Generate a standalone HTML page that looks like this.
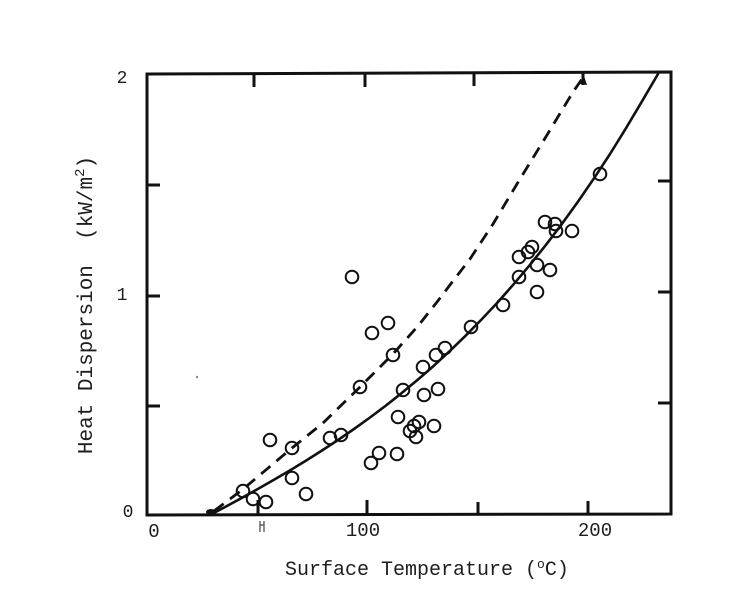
<!DOCTYPE html>
<html>
<head>
<meta charset="utf-8">
<style>
  html,body{margin:0;padding:0;background:#fff;}
  svg{display:block;}
  text{font-family:"Liberation Mono","DejaVu Sans Mono",monospace;fill:#1e1e1e;}
</style>
</head>
<body>
<svg width="750" height="610" viewBox="0 0 750 610" xmlns="http://www.w3.org/2000/svg">
  <rect x="0" y="0" width="750" height="610" fill="#ffffff"/>

  <!-- frame -->
  <path d="M147,74 L671,72 L671,514 L147,515 Z" fill="none" stroke="#111" stroke-width="3"/>

  <!-- ticks -->
  <g stroke="#111" stroke-width="3">
    <line x1="147" y1="185" x2="160" y2="185"/>
    <line x1="147" y1="296" x2="160" y2="296"/>
    <line x1="147" y1="406" x2="160" y2="406"/>
    <line x1="671" y1="181" x2="658" y2="181"/>
    <line x1="671" y1="292" x2="658" y2="292"/>
    <line x1="671" y1="403" x2="658" y2="403"/>
    <line x1="254" y1="74" x2="254" y2="87"/>
    <line x1="365" y1="73" x2="365" y2="87"/>
    <line x1="474" y1="73" x2="474" y2="86"/>
    <line x1="583" y1="72" x2="583" y2="85"/>
    <line x1="258" y1="514" x2="258" y2="500"/>
    <line x1="367" y1="514" x2="367" y2="500"/>
    <line x1="478" y1="514" x2="478" y2="502"/>
    <line x1="588" y1="514" x2="588" y2="501"/>
  </g>
  <!-- small mark under 50 tick -->
  <g stroke="#444" stroke-width="1.2">
    <line x1="260" y1="521" x2="260" y2="532"/>
    <line x1="264" y1="521" x2="264" y2="532"/>
    <line x1="260" y1="525" x2="264" y2="525"/>
  </g>

  <!-- tick labels -->
  <text x="122" y="83" font-size="18" text-anchor="middle">2</text>
  <text x="122" y="300" font-size="18" text-anchor="middle">1</text>
  <text x="128" y="517" font-size="18" text-anchor="middle">0</text>
  <text x="154" y="537" font-size="19" text-anchor="middle">0</text>
  <text x="363" y="536" font-size="19" text-anchor="middle">100</text>
  <text x="595" y="536" font-size="19" text-anchor="middle">200</text>

  <!-- axis titles -->
  <text x="285" y="575" font-size="20">Surface Temperature (<tspan font-size="13" dy="-7">o</tspan><tspan dy="7">C)</tspan></text>
  <text transform="translate(92,305) rotate(-90)" x="0" y="0" font-size="21" text-anchor="middle" xml:space="preserve">Heat Dispersion  (kW/m<tspan font-size="14" dy="-8">2</tspan><tspan dy="8">)</tspan></text>

  <!-- solid curve -->
  <polyline fill="none" stroke="#111" stroke-width="2.6" stroke-linejoin="round" stroke-linecap="round"
    points="210,515 226,506.5 242,497.8 258,488.9 274,479.8 290,470.4 306,460.6 322,450.5 338,440 354,429 370,417.5 386,405.5 402,392.8 418,379.5 434,365.6 450,350.8 466,335.3 482,319 498,302 514,283.8 530,264.8 546,244.8 562,223.8 578,201.6 594,178.3 610,154 626,128.2 642,101.3 658,74"/>

  <!-- dashed curve -->
  <polyline fill="none" stroke="#111" stroke-width="2.8" stroke-dasharray="12 8" stroke-linejoin="round"
    points="214,511 242,490 292,448 323,423 360,387 393,354 418,326 437,302 453,281 470,259 493,224 520,179 547,135 573,92 582,79"/>
  <!-- dashed end blob -->
  <path d="M580,84 L584,76 L587,85 Z" fill="#111"/>
  <!-- start blob -->
  <ellipse cx="211" cy="512" rx="5" ry="3" fill="#111"/>

  <!-- speck -->
  <circle cx="197" cy="377" r="1.2" fill="#888"/>

  <!-- data circles -->
  <g fill="none" stroke="#111" stroke-width="2">
    <circle cx="352" cy="277" r="6.3"/>
    <circle cx="372" cy="333" r="6.3"/>
    <circle cx="388" cy="323" r="6.3"/>
    <circle cx="393" cy="355" r="6.3"/>
    <circle cx="360" cy="387" r="6.3"/>
    <circle cx="403" cy="390" r="6.3"/>
    <circle cx="423" cy="367" r="6.3"/>
    <circle cx="436" cy="355" r="6.3"/>
    <circle cx="445" cy="348" r="6.3"/>
    <circle cx="471" cy="327" r="6.3"/>
    <circle cx="424" cy="395" r="6.3"/>
    <circle cx="438" cy="389" r="6.3"/>
    <circle cx="398" cy="417" r="6.3"/>
    <circle cx="410" cy="431" r="6.3"/>
    <circle cx="414" cy="426" r="6.3"/>
    <circle cx="419" cy="422" r="6.3"/>
    <circle cx="416" cy="437" r="6.3"/>
    <circle cx="434" cy="426" r="6.3"/>
    <circle cx="371" cy="463" r="6.3"/>
    <circle cx="379" cy="453" r="6.3"/>
    <circle cx="397" cy="454" r="6.3"/>
    <circle cx="270" cy="440" r="6.3"/>
    <circle cx="292" cy="448" r="6.3"/>
    <circle cx="330" cy="438" r="6.3"/>
    <circle cx="341" cy="435" r="6.3"/>
    <circle cx="292" cy="478" r="6.3"/>
    <circle cx="306" cy="494" r="6.3"/>
    <circle cx="243" cy="491" r="6.3"/>
    <circle cx="253" cy="499" r="6.3"/>
    <circle cx="266" cy="502" r="6.3"/>
    <circle cx="600" cy="174" r="6.3"/>
    <circle cx="545" cy="222" r="6.3"/>
    <circle cx="555" cy="224" r="6.3"/>
    <circle cx="556" cy="231" r="6.3"/>
    <circle cx="572" cy="231" r="6.3"/>
    <circle cx="519" cy="257" r="6.3"/>
    <circle cx="528" cy="252" r="6.3"/>
    <circle cx="532" cy="247" r="6.3"/>
    <circle cx="537" cy="265" r="6.3"/>
    <circle cx="550" cy="270" r="6.3"/>
    <circle cx="519" cy="277" r="6.3"/>
    <circle cx="537" cy="292" r="6.3"/>
    <circle cx="503" cy="305" r="6.3"/>
  </g>
</svg>
</body>
</html>
